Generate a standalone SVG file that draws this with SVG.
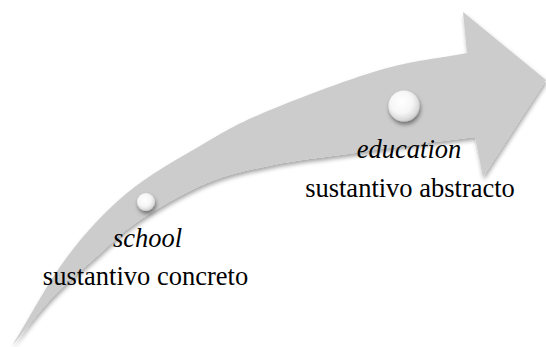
<svg xmlns="http://www.w3.org/2000/svg" width="546" height="347" viewBox="0 0 546 347">
  <defs>
    <filter id="arrowShadow" x="-10%" y="-10%" width="120%" height="130%">
      <feDropShadow dx="1" dy="3" stdDeviation="2.2" flood-color="#000" flood-opacity="0.35"/>
    </filter>
    <filter id="ballShadow" x="-50%" y="-50%" width="200%" height="200%">
      <feDropShadow dx="1" dy="3" stdDeviation="2" flood-color="#000" flood-opacity="0.45"/>
    </filter>
    <radialGradient id="ballGrad" cx="0.42" cy="0.38" r="0.65">
      <stop offset="0" stop-color="#ffffff"/>
      <stop offset="0.55" stop-color="#f6f6f6"/>
      <stop offset="0.85" stop-color="#dcdcdc"/>
      <stop offset="1" stop-color="#c4c4c4"/>
    </radialGradient>
  </defs>
  <style>
    .arrow { fill: #cccccc; filter: url(#arrowShadow); }
    .ball { fill: url(#ballGrad); filter: url(#ballShadow); }
    .word { font-family: "Liberation Serif", "Times New Roman", serif; font-style: italic; font-size: 26.5px; fill: #000; text-anchor: middle; }
    .label { font-family: "Liberation Serif", "Times New Roman", serif; font-size: 26.5px; fill: #000; text-anchor: middle; }
  </style>
  <rect width="546" height="347" fill="#ffffff"/>
  <g id="connectors">
    <path class="arrow" d="M12,346 C30.3,316.3 47.8,282.5 67,257 C86.2,231.5 104.8,211.5 127,193 C149.2,174.5 177.3,159.3 200,146 C222.7,132.7 233,125.7 263,113 C293,100.3 346,80 380,70 C414,60 438,58.7 467,53 L463,12 L546,80 L483,177 L475,137 C449,140.3 419.5,144 397,147 C374.5,150 360.7,152 340,155 C319.3,158 295.2,160.3 273,165 C250.8,169.7 229.2,173.8 207,183 C184.8,192.2 158.7,207.5 140,220 C121.3,232.5 110,244.7 95,258 C80,271.3 63.8,285.3 50,300 C36.2,314.7 24.7,330.7 12,346 Z"/>
  </g>
  <g id="node-school">
    <circle class="ball" cx="146" cy="202" r="9"/>
    <text class="word" x="147.5" y="247">school</text>
    <text class="label" x="145.5" y="285">sustantivo concreto</text>
  </g>
  <g id="node-education">
    <circle class="ball" cx="404" cy="106" r="15.5"/>
    <text class="word" x="409" y="158">education</text>
    <text class="label" x="410" y="197">sustantivo abstracto</text>
  </g>
</svg>
